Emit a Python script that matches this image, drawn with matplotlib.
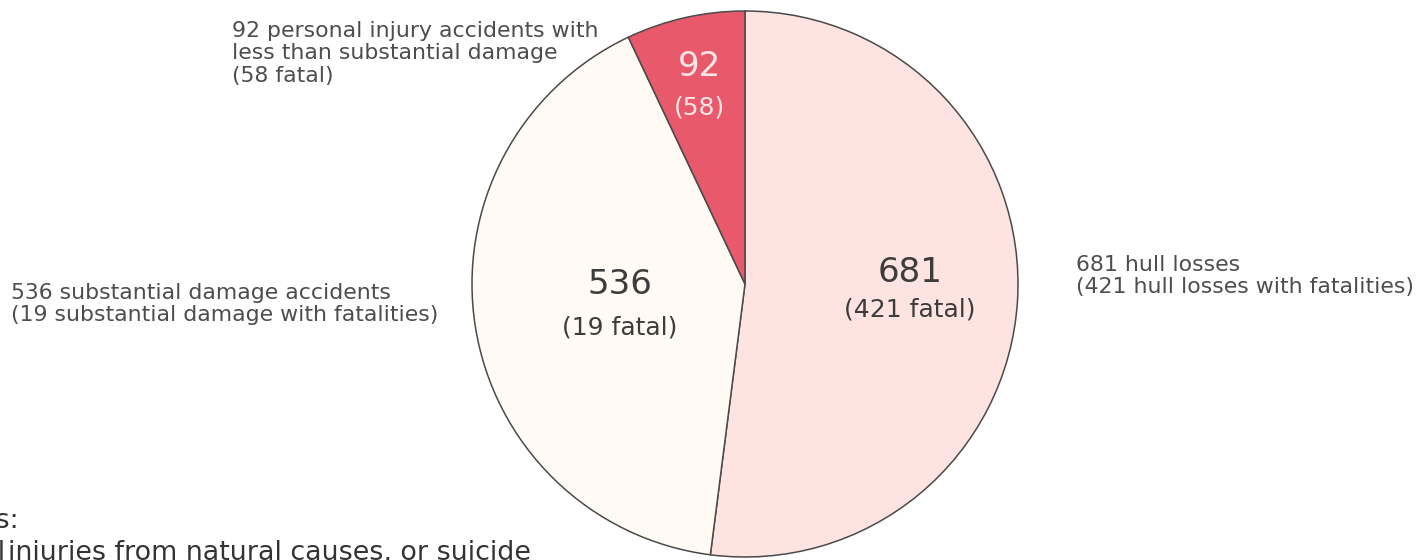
import matplotlib.pyplot as plt

plt.rcParams["font.family"] = ["DejaVu Sans"]

W, H = 1419, 560

# accident counts per category, clockwise from 12 o'clock
categories = ["hull losses", "substantial damage", "personal injury"]
accidents = [681, 536, 92]
fatal = [421, 19, 58]
slice_colors = ["#fde4e0", "#fffbf4", "#e85a6b"]
number_colors = ["#3c3c3c", "#3c3c3c", "#fde6e6"]

fig = plt.figure(figsize=(W / 100, H / 100), dpi=100)
ax = fig.add_axes([0, 0, 1, 1])


def py(y):
    # pixel row counted from the top -> data y
    return H - y


cx, cy, r = 745, 284, 273
ax.pie(
    accidents,
    colors=slice_colors,
    startangle=90,
    counterclock=False,
    center=(cx, py(cy)),
    radius=r,
    wedgeprops=dict(edgecolor="#4a4a4a", linewidth=1.1),
)
ax.set_xlim(0, W)
ax.set_ylim(0, H)
ax.set_aspect("equal")
ax.axis("off")

# -----------------------------
# numbers inside the slices
# -----------------------------
inner_pos = [(910, 272, 309), (620, 285, 327), (700, 66, 108)]
for i, (x, y_big, y_small) in enumerate(inner_pos):
    ax.text(x, py(y_big), f"{accidents[i]}", ha="center", va="center",
            fontsize=24.5, color=number_colors[i])
    small = f"({fatal[i]})" if i == 2 else f"({fatal[i]} fatal)"
    ax.text(x, py(y_small), small, ha="center", va="center",
            fontsize=18, color=number_colors[i])

# -----------------------------
# side labels
# -----------------------------
label_kw = dict(fontsize=15.8, color="#4d4d4d", ha="left", va="top", linespacing=1.15)
ax.text(232, py(21),
        f"{accidents[2]} personal injury accidents with\n"
        f"less than substantial damage\n({fatal[2]} fatal)", **label_kw)
ax.text(11, py(283),
        f"{accidents[1]} substantial damage accidents\n"
        f"({fatal[1]} substantial damage with fatalities)", **label_kw)
ax.text(1076, py(255),
        f"{accidents[0]} hull losses\n"
        f"({fatal[0]} hull losses with fatalities)", **label_kw)

# -----------------------------
# notes (run off the canvas edge)
# -----------------------------
note_kw = dict(fontsize=19.4, color="#333333", va="baseline")
ax.text(19, py(528), "Notes:", ha="right", **note_kw)
ax.text(5, py(560), "Excludes fatal", ha="right", **note_kw)
ax.text(8, py(560), "injuries from natural causes, or suicide", ha="left", **note_kw)

fig.savefig("out.png", dpi=100)
